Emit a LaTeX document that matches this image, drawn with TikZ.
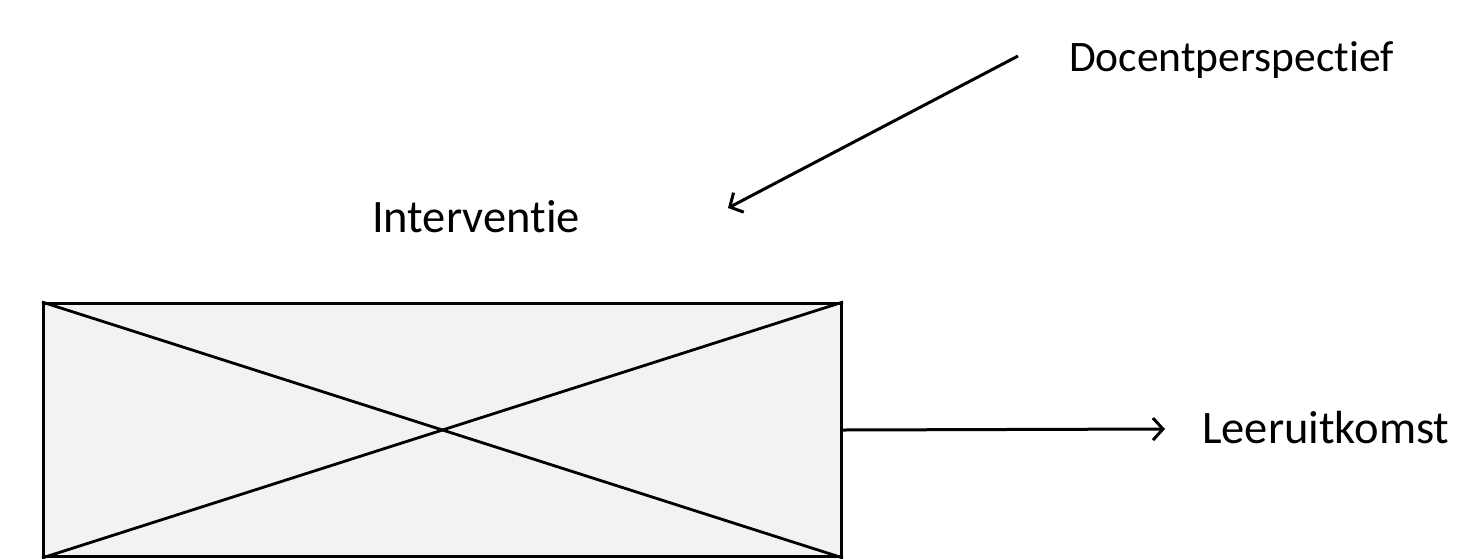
\documentclass[tikz,border=0pt]{standalone}
\usepackage{fontspec}
\setmainfont[Ligatures={NoCommon,NoRare,NoDiscretionary}]{Carlito}
\usetikzlibrary{arrows.meta}
\begin{document}
\begin{tikzpicture}[x=1pt,y=-1pt,
  lbl/.style={font=\fontsize{43.5}{50}\selectfont, inner sep=0pt, anchor=west},
  lblw/.style={lbl, font=\fontsize{46.5}{52}\selectfont},
  conn/.style={line width=3pt, -{Straight Barb[length=10pt,width=22pt,line width=3pt]}},
  boxst/.style={draw, line width=3pt, fill=black!5}]
\useasboundingbox (0,0) rectangle (1457,558);
\node[boxst, minimum width=798, minimum height=253, inner sep=0pt, anchor=north west] (box) at (42,302) {};
\draw[line width=2.8pt] (box.north west) -- (box.south east);
\draw[line width=2.8pt] (box.south west) -- (box.north east);
\node[lbl] (doc) at (1069,60) {Docentperspect\kern0pt ief};
\node[lblw] (int) at (372,217) {Intervent\kern0pt ie};
\node[lblw] (lee) at (1202,428) {Leeruitkomst};
\coordinate (ds) at (1018,56);
\coordinate (de) at (728,208);
\coordinate (le) at (1165,429);
\draw[conn] (ds) -- (de);
\draw[conn] (box.east) -- (le);
\end{tikzpicture}
\end{document}
